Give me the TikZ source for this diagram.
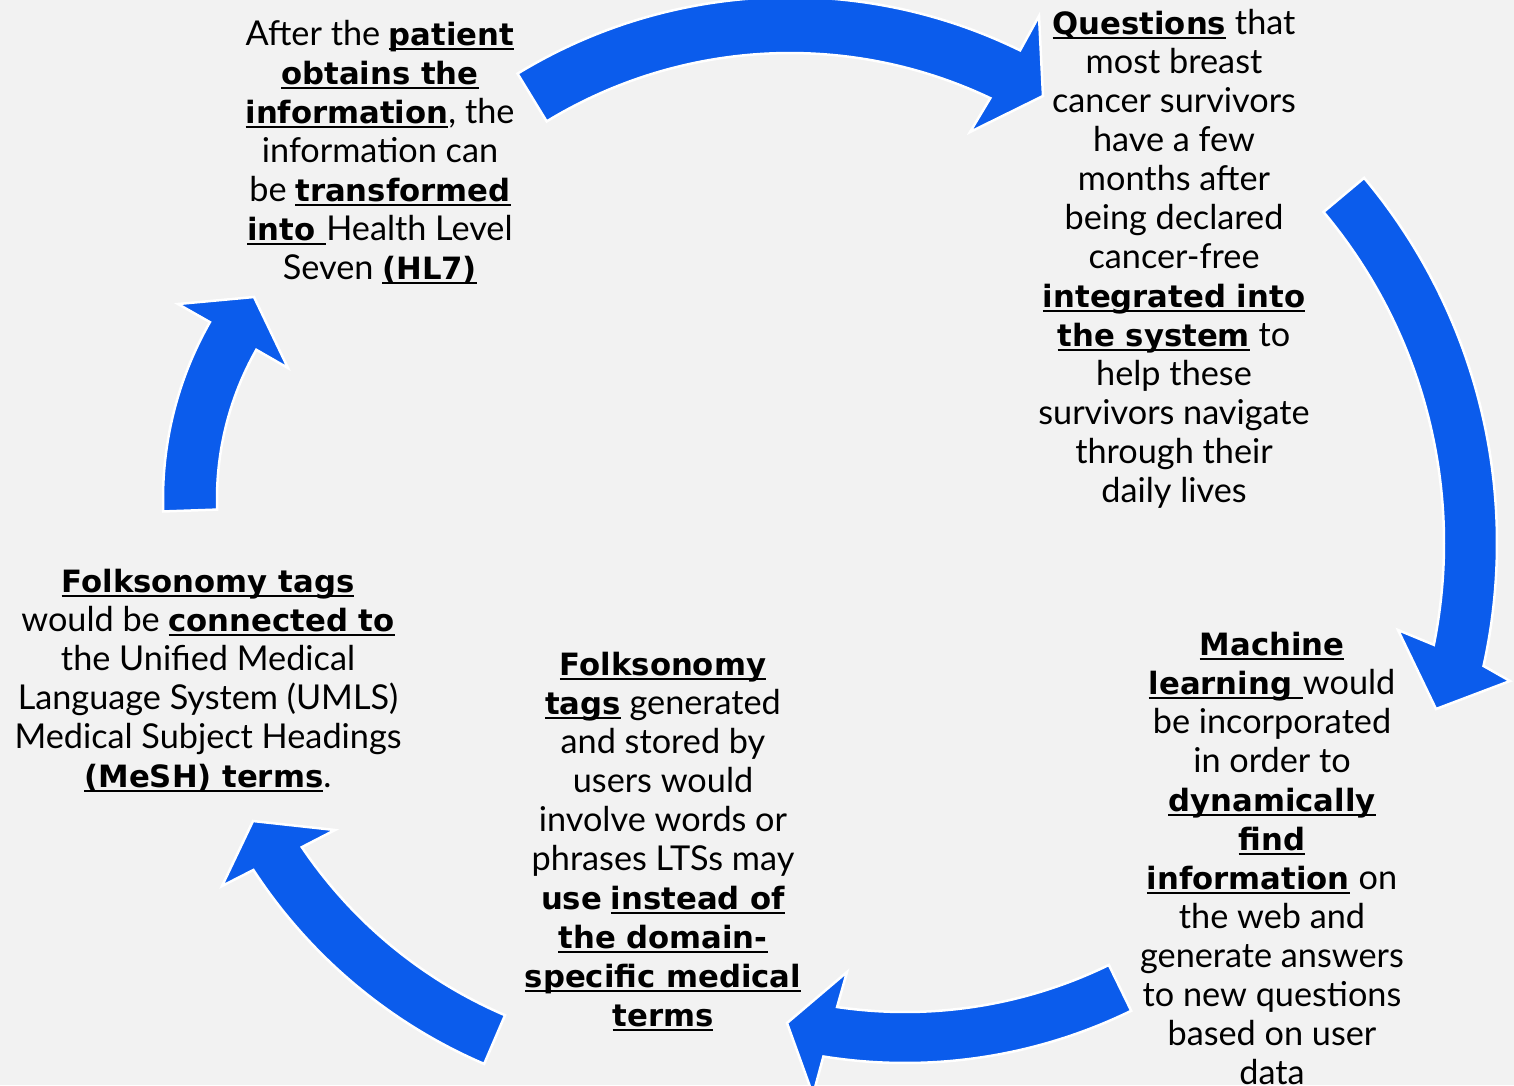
\documentclass[tikz,border=0pt]{standalone}
\usepackage{fontspec}
\setmainfont{Lato}[Scale=1.07]
\newfontfamily\hlfont{DejaVu Sans}[Scale=0.96]
\usetikzlibrary{calc}

\definecolor{cycleblue}{RGB}{11,92,236}
\definecolor{slidegray}{RGB}{242,242,242}

% bold key term, underlined
\newsavebox\keybox
\newcommand{\kt}[1]{\sbox\keybox{\hlfont\bfseries #1}\rlap{\rule[-5pt]{\wd\keybox}{2pt}}\usebox\keybox}
\newcommand{\bt}[1]{{\hlfont\bfseries #1}}

\begin{document}
\begin{tikzpicture}[x=1pt,y=-1pt,
    blocktext/.style={align=center,inner sep=0pt,anchor=base,font=\fontsize{32}{39}\selectfont},
    cyclearrow/.style={fill=cycleblue,draw=white,line width=2.5pt,line join=miter}]
      \fill[slidegray] (0,0) rectangle (1514,1085);
      \useasboundingbox (0,0) rectangle (1514,1085);

      % centres of the arrow arcs
      \coordinate (c1) at (790,520);
      \coordinate (c2) at (929,543);
      \coordinate (c3) at (905,547);
      \coordinate (c4) at (689,586);
      \coordinate (c5) at (520,499);

      % arrows
      \filldraw[cyclearrow] ($(c1)+(-121.4:523)$) arc[start angle=-121.4,end angle=-63.9,radius=523]
        -- (1039,16) -- (1043,96) -- (970,132)
        -- ($(c1)+(-64.6:467)$) arc[start angle=-64.6,end angle=-121.4,radius=467] -- cycle;
      \filldraw[cyclearrow] ($(c2)+(-40:568)$) arc[start angle=-40,end angle=12.5,radius=568]
        -- (1510,681) -- (1436,709) -- (1398,630)
        -- ($(c2)+(11.4:515)$) arc[start angle=11.4,end angle=-40,radius=515] -- cycle;
      \filldraw[cyclearrow] ($(c3)+(64:516)$) arc[start angle=64,end angle=99.1,radius=516]
        -- (813,1095) -- (787,1023) -- (847,972)
        -- ($(c3)+(98.4:465)$) arc[start angle=98.4,end angle=64,radius=465] -- cycle;
      \filldraw[cyclearrow] ($(c4)+(113.2:520)$) arc[start angle=113.2,end angle=146.9,radius=520]
        -- (222,886) -- (253,821) -- (335,830)
        -- ($(c4)+(146:467)$) arc[start angle=146,end angle=113.2,radius=467] -- cycle;
      \filldraw[cyclearrow] ($(c5)+(178:357)$) arc[start angle=178,end angle=209.7,radius=357]
        -- (178,304) -- (254,297) -- (288,368)
        -- ($(c5)+(209.5:303)$) arc[start angle=209.5,end angle=178,radius=303] -- cycle;

      % text blocks (placed at the baseline of their last line)
      \node[blocktext] (hlseven) at (380,279) {After the \kt{patient}\\
        \kt{obtains the}\\
        \kt{information}, the\\
        information can\\
        be \kt{transformed}\\
        \kt{into }Health Level\\
        Seven \kt{(HL7)}};
      \node[blocktext] (questions) at (1174,502) {\kt{Questions} that\\
        most breast\\
        cancer survivors\\
        have a few\\
        months after\\
        being declared\\
        cancer-free\\
        \kt{integrated into}\\
        \kt{the system} to\\
        help these\\
        survivors navigate\\
        through their\\
        daily lives};
      \node[blocktext] (machine) at (1272,1084) {\kt{Machine}\\
        \kt{learning }would\\
        be incorporated\\
        in order to\\
        \kt{dynamically}\\
        \kt{find}\\
        \kt{information} on\\
        the web and\\
        generate answers\\
        to new questions\\
        based on user\\
        data};
      \node[blocktext] (folkmid) at (663,1026) {\kt{Folksonomy}\\
        \kt{tags} generated\\
        and stored by\\
        users would\\
        involve words or\\
        phrases LTSs may\\
        \bt{use} \kt{instead of}\\
        \kt{the domain-}\\
        \kt{specific medical}\\
        \kt{terms}};
      \node[blocktext] (folkleft) at (208,787) {\kt{Folksonomy tags}\\
        would be \kt{connected to}\\
        the Unified Medical\\
        Language System (UMLS)\\
        Medical Subject Headings\\
        \kt{(MeSH) terms}.};
\end{tikzpicture}
\end{document}
